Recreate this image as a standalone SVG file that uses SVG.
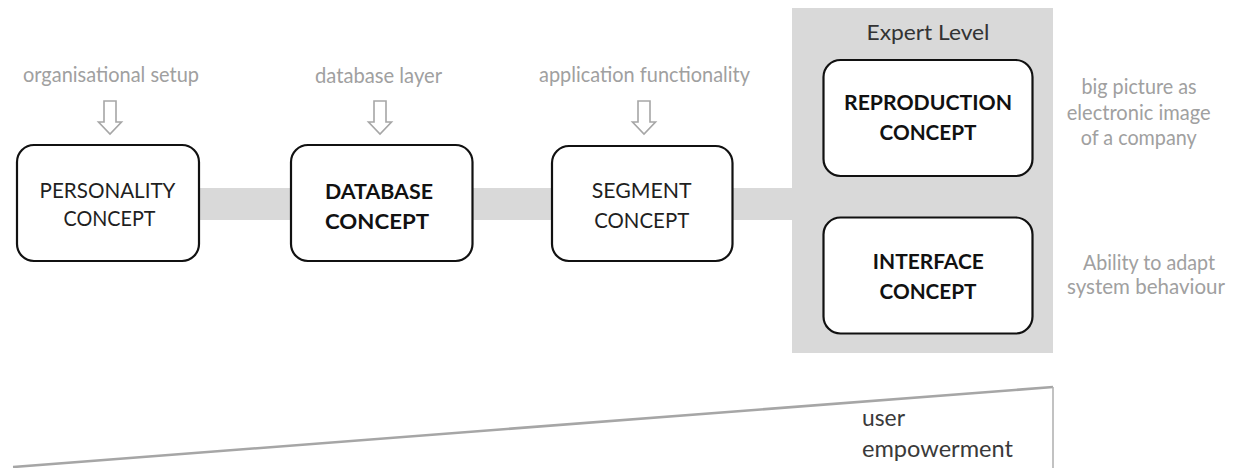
<svg xmlns="http://www.w3.org/2000/svg" width="1235" height="468" viewBox="0 0 1235 468">
  <defs>
    <style>
      text { font-family: Lato, "Open Sans", "Liberation Sans", sans-serif; }
      .box { fill: #ffffff; stroke: #111111; stroke-width: 2.2; }
      .label { font-size: 21px; fill: #a0a0a0; text-anchor: middle; }
      .title { font-size: 20.5px; fill: #1f1f1f; text-anchor: middle; }
      .title-b { font-size: 21px; font-weight: bold; fill: #111111; text-anchor: middle; }
      .note { font-size: 21px; fill: #a0a0a0; text-anchor: middle; }
      .band { fill: #d9d9d9; }
      .input-arrow { fill: #ffffff; stroke: #a6a6a6; stroke-width: 1.6; stroke-linejoin: miter; }
    </style>
    <!-- hollow down arrow, origin at the top centre of the shaft -->
    <path id="down-arrow" d="M -6 0 H 6 V 21 H 11.5 L 0 33 L -11.5 21 H -6 Z"/>
  </defs>

  <rect width="1235" height="468" fill="#ffffff"/>

  <!-- expert level container -->
  <g id="expert-level">
    <rect x="792" y="8" width="261" height="345" fill="#d9d9d9"/>
    <text x="928" y="40" font-size="22" fill="#333333" text-anchor="middle" textLength="123" lengthAdjust="spacingAndGlyphs">Expert Level</text>
  </g>

  <!-- connecting band between the concepts -->
  <g id="connectors">
    <rect class="band" x="198" y="188" width="596" height="32"/>
    <use href="#down-arrow" class="input-arrow" x="110" y="101"/>
    <use href="#down-arrow" class="input-arrow" x="380" y="101"/>
    <use href="#down-arrow" class="input-arrow" x="644" y="101"/>
  </g>

  <!-- input labels above the chain -->
  <g id="input-labels">
    <text class="label" x="111" y="82" textLength="176" lengthAdjust="spacingAndGlyphs">organisational setup</text>
    <text class="label" x="378.5" y="82.5" textLength="127" lengthAdjust="spacingAndGlyphs">database layer</text>
    <text class="label" x="644.5" y="82" textLength="211" lengthAdjust="spacingAndGlyphs">application functionality</text>
  </g>

  <g id="personality-concept">
    <rect class="box" x="17" y="145" width="182" height="116" rx="17"/>
    <text class="title" x="107.5" y="197.5" textLength="136" lengthAdjust="spacingAndGlyphs">PERSONALITY</text>
    <text class="title" x="109.5" y="226" textLength="92" lengthAdjust="spacingAndGlyphs">CONCEPT</text>
  </g>

  <g id="database-concept">
    <rect class="box" x="291" y="145" width="181.5" height="116" rx="17"/>
    <text class="title-b" x="379" y="198.5" textLength="108" lengthAdjust="spacingAndGlyphs">DATABASE</text>
    <text class="title-b" x="377" y="228.5" textLength="104" lengthAdjust="spacingAndGlyphs">CONCEPT</text>
  </g>

  <g id="segment-concept">
    <rect class="box" x="552" y="146" width="180.5" height="115" rx="17"/>
    <text class="title" x="641.7" y="197.5" textLength="100" lengthAdjust="spacingAndGlyphs">SEGMENT</text>
    <text class="title" x="641.7" y="227.5" textLength="95" lengthAdjust="spacingAndGlyphs">CONCEPT</text>
  </g>

  <g id="reproduction-concept">
    <rect class="box" x="823.5" y="60" width="209" height="116" rx="17"/>
    <text class="title-b" x="928" y="110" font-size="21.5" textLength="168" lengthAdjust="spacingAndGlyphs">REPRODUCTION</text>
    <text class="title-b" x="928" y="140" font-size="21.5" textLength="97" lengthAdjust="spacingAndGlyphs">CONCEPT</text>
  </g>

  <g id="interface-concept">
    <rect class="box" x="823.5" y="217.5" width="209" height="116" rx="17"/>
    <text class="title-b" x="928.3" y="268.5" font-size="21.5" textLength="111" lengthAdjust="spacingAndGlyphs">INTERFACE</text>
    <text class="title-b" x="928" y="298.5" font-size="21.5" textLength="97" lengthAdjust="spacingAndGlyphs">CONCEPT</text>
  </g>

  <!-- side notes for the expert level -->
  <g id="reproduction-note">
    <text class="note" x="1139" y="93.5" textLength="115" lengthAdjust="spacingAndGlyphs">big picture as</text>
    <text class="note" x="1138.7" y="120" textLength="144" lengthAdjust="spacingAndGlyphs">electronic image</text>
    <text class="note" x="1138.7" y="145" textLength="116" lengthAdjust="spacingAndGlyphs">of a company</text>
  </g>
  <g id="interface-note">
    <text class="note" x="1149" y="269.5" textLength="132" lengthAdjust="spacingAndGlyphs">Ability to adapt</text>
    <text class="note" x="1146" y="293.5" textLength="158" lengthAdjust="spacingAndGlyphs">system behaviour</text>
  </g>

  <!-- rising wedge: growing user empowerment -->
  <g id="user-empowerment">
    <path d="M 13 467 L 1053 387" fill="none" stroke="#a6a6a6" stroke-width="2.6"/>
    <path d="M 1053 387 V 468" fill="none" stroke="#b3b3b3" stroke-width="1.6"/>
    <text x="862" y="426" font-size="24" fill="#3a3a3a" textLength="43" lengthAdjust="spacingAndGlyphs">user</text>
    <text x="862" y="457" font-size="24" fill="#3a3a3a" textLength="151" lengthAdjust="spacingAndGlyphs">empowerment</text>
  </g>
</svg>
